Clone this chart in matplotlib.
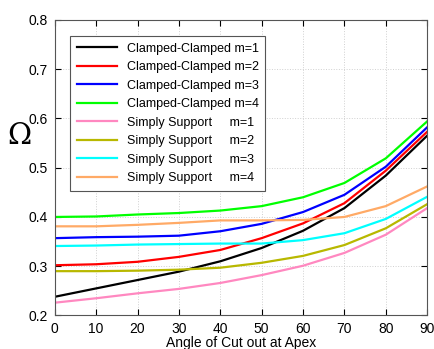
import matplotlib
matplotlib.use("Agg")
import matplotlib.pyplot as plt
import numpy as np

plt.rcParams['font.family'] = ['Liberation Sans', 'DejaVu Sans']

angle = [0, 10, 20, 30, 40, 50, 60, 70, 80, 90]

cc_m1 = [0.238, 0.255, 0.272, 0.289, 0.310, 0.337, 0.372, 0.418, 0.484, 0.565]
cc_m2 = [0.302, 0.304, 0.309, 0.319, 0.333, 0.357, 0.387, 0.428, 0.494, 0.573]
cc_m3 = [0.357, 0.359, 0.360, 0.362, 0.371, 0.386, 0.410, 0.445, 0.502, 0.582]
cc_m4 = [0.400, 0.401, 0.405, 0.408, 0.413, 0.422, 0.440, 0.469, 0.519, 0.594]
ss_m1 = [0.226, 0.235, 0.245, 0.254, 0.266, 0.282, 0.301, 0.327, 0.364, 0.418]
ss_m2 = [0.290, 0.290, 0.291, 0.293, 0.297, 0.307, 0.321, 0.343, 0.377, 0.426]
ss_m3 = [0.341, 0.342, 0.344, 0.345, 0.346, 0.346, 0.353, 0.367, 0.396, 0.441]
ss_m4 = [0.381, 0.381, 0.384, 0.388, 0.393, 0.393, 0.394, 0.400, 0.422, 0.462]

series = [
    (cc_m1, 'black', 'Clamped-Clamped m=1'),
    (cc_m2, '#ff0000', 'Clamped-Clamped m=2'),
    (cc_m3, '#0000ff', 'Clamped-Clamped m=3'),
    (cc_m4, '#00ff00', 'Clamped-Clamped m=4'),
    (ss_m1, '#ff88c0', 'Simply Support     m=1'),
    (ss_m2, '#b8b800', 'Simply Support     m=2'),
    (ss_m3, '#00ffff', 'Simply Support     m=3'),
    (ss_m4, '#ffaa66', 'Simply Support     m=4'),
]

fig = plt.figure(figsize=(4.35, 3.49), dpi=100)
ax = fig.add_axes([0.126, 0.096, 0.856, 0.847])

for vals, col, lab in series:
    ax.plot(angle, vals, color=col, lw=1.6, label=lab)

ax.set_xlim(0, 90)
ax.set_ylim(0.2, 0.8)
ax.set_xticks(np.arange(0, 91, 10))
ax.set_yticks(np.arange(0.2, 0.81, 0.1))
ax.set_yticklabels(['0.2', '0.3', '0.4', '0.5', '0.6', '0.7', '0.8'])
ax.tick_params(labelsize=10, direction='in', length=4, top=True, right=True, pad=5)
ax.grid(True, ls=':', color='#d0d0d0', lw=0.7)
for s in ax.spines.values():
    s.set_color('#555555')
    s.set_linewidth(0.8)

ax.set_xlabel('Angle of Cut out at Apex', fontsize=10, labelpad=0)
ax.set_ylabel('Ω', fontsize=21, rotation=0, labelpad=10, family='DejaVu Serif')
ax.yaxis.set_label_coords(-0.095, 0.56)

leg = ax.legend(loc='upper left', bbox_to_anchor=(0.04, 0.946), borderaxespad=0,
                fontsize=9, handlelength=3.2, fancybox=False, framealpha=1,
                edgecolor='#555555', borderpad=0.55, labelspacing=0.52)
leg.get_frame().set_linewidth(0.8)

fig.savefig('out.png', dpi=100)
